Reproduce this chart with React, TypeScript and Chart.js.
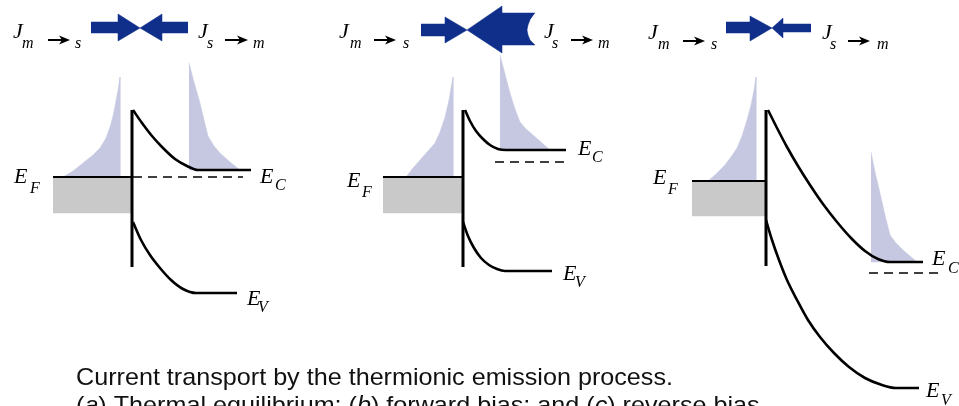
import React, { useEffect, useRef } from 'react';
import { Chart, registerables } from 'chart.js';

Chart.register(...registerables);

type P = [number, number];

// Frame coordinates: x runs 0..959 left to right, y runs 0..406 top to bottom.

// ---- (a) thermal equilibrium ----
const aMetalFill: P[] = [[53, 177], [131, 177], [131, 213], [53, 213]];
const aFermiSolid: P[] = [[53, 177], [131, 177]];
const aFermiDashed: P[] = [[133, 177], [243, 177]];
const aInterface: P[] = [[132, 110], [132, 267]];
const aConduction: P[] = [[133, 110], [142, 123], [152, 136], [163, 148], [175, 159], [187, 166], [198, 170], [251, 170]];
const aValence: P[] = [[133, 222], [141, 240], [150, 255], [160, 268], [171, 280], [183, 289], [196, 293], [237, 293]];
const aMetalElectrons: P[] = [[63, 177], [73, 171], [83, 163], [93, 155], [100, 148], [106, 138], [110, 127], [113, 116], [115, 106], [118, 90], [120, 77], [120, 177]];
const aSemiElectrons: P[] = [[189, 63], [194, 82], [200, 103], [205, 124], [208, 136], [214, 146], [220, 153], [230, 162], [240, 170], [189, 170]];
const aFluxMS: P[] = [[91, 22], [118, 22], [118, 14], [140, 28], [118, 41], [118, 33], [91, 33]];
const aFluxSM: P[] = [[188, 22], [162, 22], [162, 14], [140, 28], [162, 41], [162, 33], [188, 33]];

// ---- (b) forward bias ----
const bMetalFill: P[] = [[383, 177], [463, 177], [463, 213], [383, 213]];
const bFermiSolid: P[] = [[383, 177], [463, 177]];
const bFermiDashed: P[] = [[495, 162], [566, 162]];
const bInterface: P[] = [[463, 110], [463, 267]];
const bConduction: P[] = [[465, 110], [470, 121], [476, 131], [483, 139], [490, 145], [498, 149], [506, 150], [566, 150]];
const bValence: P[] = [[463, 222], [468, 236], [474, 248], [481, 258], [489, 265], [497, 269], [505, 271], [552, 271]];
const bMetalElectrons: P[] = [[406, 177], [413, 168], [420, 160], [428, 151], [435, 143], [440, 132], [445, 117], [449, 100], [451, 88], [453, 77], [453, 177]];
const bSemiElectrons: P[] = [[500, 55], [505, 74], [510, 93], [515, 109], [520, 122], [526, 129], [533, 135], [541, 142], [550, 150], [500, 150]];
const bFluxMS: P[] = [[421, 24], [445, 24], [445, 17], [467, 30], [445, 43], [445, 36], [421, 36]];
const bFluxSM: P[] = [[535, 13], [502, 13], [502, 6], [467, 30], [502, 53], [502, 45], [535, 45], [530, 40], [528, 35], [527, 30], [528, 25], [530, 20]];

// ---- (c) reverse bias ----
const cMetalFill: P[] = [[692, 181], [766, 181], [766, 216], [692, 216]];
const cFermiSolid: P[] = [[692, 181], [766, 181]];
const cFermiDashed: P[] = [[869, 273], [938, 273]];
const cInterface: P[] = [[766, 110], [766, 266]];
const cConduction: P[] = [[768, 110], [777, 128], [787, 147], [798, 166], [810, 185], [823, 204], [837, 222], [851, 238], [865, 251], [878, 259], [890, 262], [923, 262]];
const cValence: P[] = [[766, 220], [772, 240], [779, 260], [787, 280], [797, 300], [808, 320], [820, 337], [834, 353], [849, 367], [865, 378], [882, 385], [896, 388], [919, 388]];
const cMetalElectrons: P[] = [[708, 181], [716, 174], [724, 166], [731, 157], [737, 148], [742, 136], [747, 120], [751, 105], [754, 90], [756, 77], [756, 181]];
const cSemiElectrons: P[] = [[871, 152], [875, 172], [880, 193], [885, 215], [890, 235], [896, 243], [903, 250], [910, 256], [917, 262], [871, 262]];
const cFluxMS: P[] = [[726, 22], [750, 22], [750, 16], [772, 28], [750, 41], [750, 33], [726, 33]];
const cFluxSM: P[] = [[811, 24], [783, 24], [783, 18], [772, 28], [783, 38], [783, 32], [811, 32]];

// Small black arrows inside the flux labels: [xStart, xEnd, y]
const labelArrows: [number, number, number][] = [
  [48, 70, 40], [225, 248, 40],
  [374, 396, 40], [571, 593, 40],
  [683, 705, 41], [848, 870, 41],
];

// Italic symbols: [text, x, baseline y, font size]
const symbolLabels: [string, number, number, number][] = [
  ['J', 13, 38, 22], ['m', 22, 48, 16], ['s', 75, 48, 16],
  ['J', 198, 38, 22], ['s', 207, 48, 16], ['m', 253, 48, 16],
  ['J', 339, 38, 22], ['m', 350, 48, 16], ['s', 403, 48, 16],
  ['J', 544, 38, 22], ['s', 552, 48, 16], ['m', 598, 48, 16],
  ['J', 648, 39, 22], ['m', 658, 49, 16], ['s', 711, 49, 16],
  ['J', 822, 39, 22], ['s', 830, 49, 16], ['m', 877, 49, 16],
  ['E', 14, 183, 22], ['F', 30, 193, 16],
  ['E', 260, 183, 22], ['C', 275, 190, 16],
  ['E', 247, 305, 22], ['V', 258, 312, 16],
  ['E', 347, 187, 22], ['F', 362, 197, 16],
  ['E', 578, 155, 22], ['C', 592, 162, 16],
  ['E', 563, 280, 22], ['V', 575, 287, 16],
  ['E', 653, 184, 22], ['F', 668, 194, 16],
  ['E', 932, 265, 22], ['C', 948, 273, 16],
  ['E', 926, 397, 22], ['V', 941, 405, 16],
];

const captionLine1 = 'Current transport by the thermionic emission process.';
// Second caption line as [text, italic] runs
const captionLine2: [string, boolean][] = [
  ['(', false], ['a', true], [') Thermal equilibrium; (', false], ['b', true],
  [') forward bias; and (', false], ['c', true], [') reverse bias.', false],
];
const captionX = 76;
const captionY1 = 385;
const captionY2 = 413;
const captionWidth = 597;

const BLUE = '#0f2f8a';
const LAVENDER = '#c6c8e1';
const GREY = '#c9c9c9';
const INK = '#000000';

const pts = (a: P[]) => a.map(([x, y]) => ({ x, y }));

const area = (data: P[], color: string) => ({
  data: pts(data),
  showLine: true,
  fill: 'shape',
  backgroundColor: color,
  borderColor: color,
  borderWidth: 0.5,
  pointRadius: 0,
  tension: 0,
  order: 2,
});

const band = (data: P[], width: number, smooth = true) => ({
  data: pts(data),
  showLine: true,
  fill: false,
  borderColor: INK,
  borderWidth: width,
  pointRadius: 0,
  tension: 0,
  cubicInterpolationMode: smooth ? 'monotone' : 'default',
  order: 1,
});

const dashed = (data: P[]) => ({
  data: pts(data),
  showLine: true,
  fill: false,
  borderColor: INK,
  borderWidth: 1.6,
  borderDash: [9, 6],
  pointRadius: 0,
  tension: 0,
  order: 1,
});

const overlayPlugin = {
  id: 'overlayText',
  afterDatasetsDraw(chart: any) {
    const { ctx, scales } = chart;
    const px = (v: number) => scales.x.getPixelForValue(v);
    const py = (v: number) => scales.y.getPixelForValue(v);
    ctx.save();

    // label arrows
    ctx.strokeStyle = INK;
    ctx.fillStyle = INK;
    ctx.lineWidth = 2;
    for (const [x0, x1, yy] of labelArrows) {
      const X0 = px(x0);
      const X1 = px(x1);
      const Y = py(yy);
      ctx.beginPath();
      ctx.moveTo(X0, Y);
      ctx.lineTo(X1 - 5, Y);
      ctx.stroke();
      ctx.beginPath();
      ctx.moveTo(X1, Y);
      ctx.lineTo(X1 - 11, Y - 4.5);
      ctx.lineTo(X1 - 8, Y);
      ctx.lineTo(X1 - 11, Y + 4.5);
      ctx.closePath();
      ctx.fill();
    }

    // italic symbols
    ctx.textBaseline = 'alphabetic';
    ctx.textAlign = 'left';
    for (const [t, lx, ly, size] of symbolLabels) {
      ctx.font = `italic ${size}px "Liberation Serif", "Times New Roman", serif`;
      ctx.fillText(t, px(lx), py(ly));
    }

    // caption
    ctx.fillStyle = '#111';
    const regular = '24px "Liberation Sans", Arial, sans-serif';
    const italic = 'italic 24px "Liberation Sans", Arial, sans-serif';
    ctx.font = regular;
    const w1 = ctx.measureText(captionLine1).width;
    const sx = captionWidth / w1;
    ctx.translate(px(captionX), 0);
    ctx.scale(sx, 1);
    ctx.fillText(captionLine1, 0, py(captionY1));
    let cx = 0;
    for (const [t, it] of captionLine2) {
      ctx.font = it ? italic : regular;
      ctx.fillText(t, cx, py(captionY2));
      cx += ctx.measureText(t).width;
    }
    ctx.restore();
  },
};

export default function App() {
  const canvasRef = useRef<HTMLCanvasElement | null>(null);

  useEffect(() => {
    if (!canvasRef.current) return;
    const chart = new Chart(canvasRef.current, {
      type: 'scatter',
      data: {
        datasets: [
          // band edges and interfaces
          band(aInterface, 3, false),
          band(aConduction, 2.6),
          band(aValence, 2.6),
          band(aFermiSolid, 1.8, false),
          dashed(aFermiDashed),
          band(bInterface, 3, false),
          band(bConduction, 2.6),
          band(bValence, 2.6),
          band(bFermiSolid, 1.8, false),
          dashed(bFermiDashed),
          band(cInterface, 3, false),
          band(cConduction, 2.6),
          band(cValence, 2.6),
          band(cFermiSolid, 1.8, false),
          dashed(cFermiDashed),
          // shaded regions and flux arrows
          area(aMetalFill, GREY),
          area(aMetalElectrons, LAVENDER),
          area(aSemiElectrons, LAVENDER),
          area(aFluxMS, BLUE),
          area(aFluxSM, BLUE),
          area(bMetalFill, GREY),
          area(bMetalElectrons, LAVENDER),
          area(bSemiElectrons, LAVENDER),
          area(bFluxMS, BLUE),
          area(bFluxSM, BLUE),
          area(cMetalFill, GREY),
          area(cMetalElectrons, LAVENDER),
          area(cSemiElectrons, LAVENDER),
          area(cFluxMS, BLUE),
          area(cFluxSM, BLUE),
        ] as any,
      },
      options: {
        animation: false,
        responsive: false,
        maintainAspectRatio: false,
        events: [],
        layout: { padding: 0 },
        plugins: {
          legend: { display: false },
          tooltip: { enabled: false },
        },
        scales: {
          x: { type: 'linear', min: 0, max: 959, display: false },
          y: { type: 'linear', min: 0, max: 406, reverse: true, display: false },
        },
      } as any,
      plugins: [overlayPlugin],
    });
    return () => chart.destroy();
  }, []);

  return (
    <div style={{ position: 'absolute', left: 0, top: 0, width: 959, height: 406, background: '#ffffff' }}>
      <canvas ref={canvasRef} width={959} height={406} style={{ display: 'block' }} />
    </div>
  );
}
